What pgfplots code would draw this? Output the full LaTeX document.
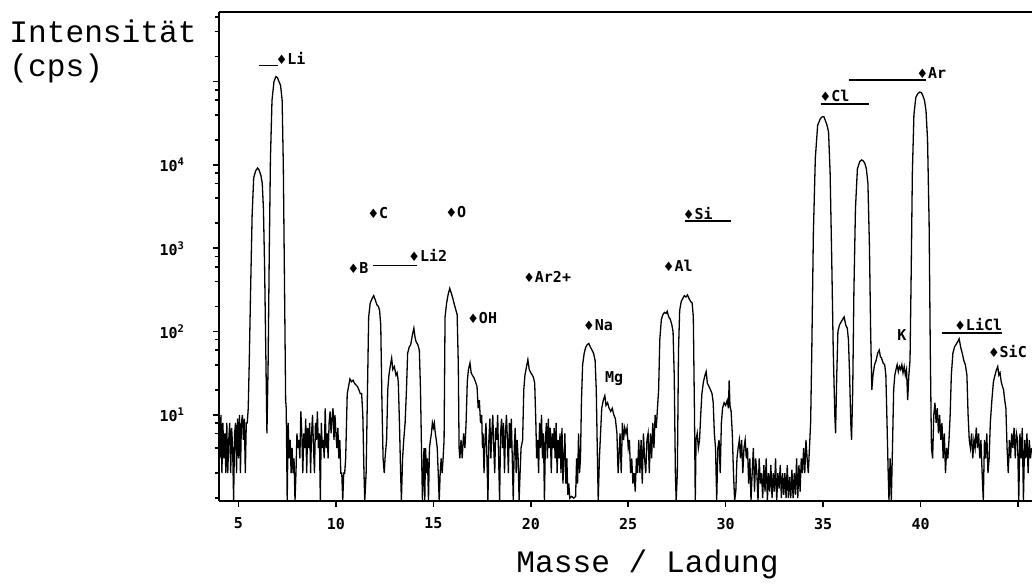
\documentclass[border=0pt]{standalone}
\usepackage{fontspec}
\setmainfont{Liberation Mono}
\newfontfamily\plotfont{DejaVu Sans Mono}
\newfontfamily\symfont{DejaVu Sans}
\usepackage{pgfplots}
\pgfplotsset{compat=1.18}

\newcommand{\dm}{{\symfont\fontsize{6.5}{6.5}\selectfont\char"2666}}
\tikzset{anno/.style={font=\plotfont\bfseries\fontsize{7.5}{8}\selectfont, anchor=west, inner sep=0pt, xshift=-2.5pt}}

\begin{document}
\begin{tikzpicture}
\begin{axis}[
    scale only axis,
    width=406.5pt, height=244.5pt,
    ymode=log,
    xmin=4, xmax=45.72,
    ymin=0.925, ymax=6.87e5,
    axis lines=left,
    axis line style={-, line width=1.1pt},
    tick align=outside,
    major tick length=3pt, minor tick length=2.2pt,
    every tick/.style={black, line width=0.8pt},
    xtick={5,10,...,45},
    xticklabels={5,10,15,20,25,30,35,40,{}},
    ytick={10,100,1000,10000,100000},
    yticklabels={{10\textsuperscript{1}},{10\textsuperscript{2}},{10\textsuperscript{3}},{10\textsuperscript{4}},{}},
    minor ytick={1,2,4,6,8,20,40,60,80,200,400,600,800,2000,4000,6000,8000,20000,40000,60000,80000,200000,400000,600000},
    tick label style={font=\plotfont\bfseries\fontsize{7.5}{8}\selectfont},
    yticklabel style={xshift=-10.5pt},
    xticklabel style={yshift=-2pt},
    clip=false,
]
\coordinate (tl) at (rel axis cs:0,1);
\coordinate (br) at (rel axis cs:1,0);
\draw[line width=1.1pt] (rel axis cs:0,1) -- (rel axis cs:1,1);

\addplot[black, line width=0.65pt] coordinates {
(4.00,14) (4.05,3) (4.10,10) (4.15,2) (4.20,8) (4.25,3) (4.30,6) (4.35,2) (4.40,8) (4.45,2)
(4.50,5) (4.55,8) (4.60,2) (4.65,7) (4.70,4) (4.75,0.93) (4.80,6) (4.85,8) (4.90,2) (4.95,9)
(5.00,3) (5.05,10) (5.10,2) (5.15,8) (5.20,10) (5.25,5) (5.30,9) (5.35,2) (5.40,8) (5.45,8)
(5.50,12) (5.55,40) (5.62,300) (5.70,2500) (5.78,7000) (5.88,8500) (5.98,9200) (6.05,8800)
(6.15,7500) (6.22,6000) (6.28,3000) (6.34,600) (6.40,60) (6.46,6) (6.52,40) (6.58,900)
(6.64,12000) (6.72,60000) (6.82,100000) (6.92,115000) (7.00,112000) (7.08,100000)
(7.16,90000) (7.24,60000) (7.30,10000) (7.36,400) (7.42,15)
(7.45,12) (7.50,0.93) (7.55,8) (7.60,3) (7.65,5) (7.70,2) (7.75,4) (7.80,2) (7.85,3) (7.90,0.93)
(7.95,2) (8.00,6) (8.05,4) (8.10,5) (8.15,3) (8.20,11) (8.25,6) (8.30,2) (8.35,6) (8.40,4)
(8.45,9) (8.50,2) (8.55,7) (8.60,4) (8.65,8) (8.70,2) (8.75,6) (8.80,10) (8.85,4) (8.90,2)
(8.95,8) (9.00,5) (9.05,11) (9.10,4) (9.15,6) (9.20,0.93) (9.25,8) (9.30,4) (9.35,5) (9.40,3)
(9.45,12) (9.50,4) (9.55,6) (9.60,3) (9.65,8) (9.70,11) (9.75,6) (9.80,9) (9.85,12) (9.90,5)
(9.95,10) (10.00,6) (10.05,4) (10.10,7) (10.15,3) (10.20,5) (10.25,2) (10.30,2) (10.35,0.93)
(10.40,2) (10.45,2) (10.50,3)
(10.58,18) (10.65,22) (10.72,27) (10.80,25) (10.88,26) (10.95,24) (11.02,23) (11.10,22)
(11.18,20) (11.25,18) (11.32,18) (11.38,10) (11.44,2) (11.48,0.93)
(11.55,2) (11.62,20) (11.68,150) (11.76,220) (11.86,250) (11.94,270) (12.02,240) (12.10,210)
(12.18,200) (12.24,180) (12.30,120) (12.36,15) (12.42,3) (12.48,2) (12.52,3)
(12.60,5) (12.66,20) (12.72,30) (12.80,40) (12.86,48) (12.92,35) (13.00,38) (13.08,30)
(13.14,32) (13.20,25) (13.26,8) (13.32,2) (13.36,0.93) (13.42,3) (13.48,5) (13.55,8)
(13.62,20) (13.68,55) (13.76,65) (13.84,70) (13.92,90) (14.00,110) (14.06,85) (14.12,75)
(14.20,70) (14.28,60) (14.34,20) (14.40,3) (14.44,0.93) (14.48,2) (14.52,4) (14.56,0.93)
(14.60,4) (14.65,2) (14.70,3) (14.75,0.93) (14.80,4) (14.85,5) (14.90,6) (14.95,8) (15.00,7)
(15.05,8) (15.10,6) (15.15,5) (15.20,4) (15.25,2) (15.30,0.93) (15.35,2) (15.40,3) (15.45,2)
(15.50,3) (15.55,5)
(15.60,150) (15.68,220) (15.76,280) (15.84,330) (15.92,290) (16.00,250) (16.08,210)
(16.16,180) (16.22,160) (16.28,40) (16.32,4)
(16.36,3) (16.42,5) (16.48,3) (16.55,6) (16.62,4) (16.68,8) (16.74,25) (16.80,35) (16.88,42)
(16.94,32) (17.00,30) (17.08,28) (17.16,25) (17.24,22) (17.30,12) (17.36,15) (17.42,8)
(17.48,10) (17.52,4)
(17.55,6) (17.60,2) (17.65,5) (17.70,8) (17.75,3) (17.80,0.93) (17.85,5) (17.90,9) (17.95,3)
(18.00,6) (18.05,10) (18.10,4) (18.15,2) (18.20,7) (18.25,5) (18.30,10) (18.35,3) (18.40,0.93)
(18.45,6) (18.50,9) (18.55,4) (18.60,8) (18.65,2) (18.70,6) (18.75,10) (18.80,5) (18.85,2)
(18.90,8) (18.95,4) (19.00,9) (19.05,3) (19.10,0.93) (19.15,4) (19.20,7) (19.25,2) (19.30,5)
(19.35,3) (19.40,0.93) (19.45,2) (19.50,4) (19.58,5)
(19.64,20) (19.70,30) (19.78,38) (19.85,46) (19.92,35) (20.00,32) (20.08,30) (20.14,28)
(20.20,24) (20.26,8) (20.30,3)
(20.35,5) (20.40,2) (20.45,8) (20.50,4) (20.55,10) (20.60,3) (20.65,6) (20.70,0.93) (20.75,5)
(20.80,8) (20.85,3) (20.90,9) (20.95,4) (21.00,7) (21.05,2) (21.10,6) (21.15,4) (21.20,7)
(21.25,3) (21.30,8) (21.35,2) (21.40,5) (21.45,3) (21.50,6) (21.55,2) (21.60,7) (21.65,1.5)
(21.70,3) (21.75,6) (21.80,1.5) (21.85,3) (21.90,1.1) (21.95,1.5) (22.00,1.0) (22.10,1.05)
(22.20,1.0) (22.30,1.05) (22.35,3) (22.40,1.5) (22.45,6) (22.50,2) (22.55,3)
(22.60,15) (22.66,40) (22.74,55) (22.82,65) (22.90,70) (22.98,72) (23.06,65) (23.14,60)
(23.22,55) (23.30,45) (23.36,20) (23.42,3) (23.46,0.93)
(23.52,3) (23.58,6) (23.64,12) (23.72,15) (23.80,17) (23.86,13) (23.94,14) (24.02,12)
(24.10,11) (24.18,12) (24.26,10) (24.34,9) (24.42,6) (24.48,2) (24.52,3)
(24.58,6) (24.64,2) (24.70,8) (24.76,5) (24.82,7) (24.88,6) (24.94,7) (25.00,4) (25.06,5)
(25.12,2) (25.18,3) (25.24,1.5) (25.30,2) (25.36,1.2) (25.42,3) (25.48,2) (25.54,5) (25.60,2)
(25.66,5) (25.72,1.5) (25.78,6) (25.84,3) (25.90,2) (25.96,5) (26.02,6) (26.08,2) (26.14,6)
(26.20,3) (26.26,8) (26.32,4) (26.38,10) (26.44,7) (26.50,12)
(26.56,20) (26.62,80) (26.70,140) (26.78,160) (26.86,170) (26.94,165) (27.00,175) (27.08,150)
(27.16,140) (27.24,120) (27.30,100) (27.36,30) (27.42,2) (27.46,0.93) (27.52,2)
(27.58,60) (27.64,180) (27.72,230) (27.80,250) (27.88,270) (27.96,260) (28.04,275) (28.12,250)
(28.20,230) (28.28,220) (28.34,150) (28.40,10) (28.44,0.93)
(28.48,5) (28.54,6) (28.60,4) (28.66,5) (28.72,10) (28.78,18) (28.86,25) (28.94,30) (29.00,33)
(29.06,24) (29.14,22) (29.22,20) (29.30,18) (29.36,14) (29.42,6) (29.48,4) (29.54,0.93)
(29.60,4) (29.66,5) (29.72,2) (29.78,8) (29.84,12) (29.92,14) (30.00,13) (30.08,15) (30.14,12)
(30.18,26) (30.22,13) (30.28,11) (30.34,6) (30.40,2) (30.46,0.93) (30.52,1.2)
(30.58,3) (30.64,4) (30.70,5) (30.76,3) (30.82,5) (30.88,2) (30.94,4) (31.00,5) (31.06,3)
(31.12,4) (31.18,1.5) (31.24,3) (31.30,0.93) (31.36,2) (31.42,4) (31.48,1.2) (31.54,3)
(31.60,2) (31.66,0.93) (31.72,3) (31.78,1.5) (31.84,2) (31.90,1.0) (31.96,2.5) (32.02,1.2)
(32.08,3) (32.14,0.93) (32.20,2) (32.26,1.2) (32.32,2.5) (32.38,1.0) (32.44,2) (32.50,1.2)
(32.56,3) (32.62,0.93) (32.68,2) (32.74,1.3) (32.80,2.5) (32.86,1.0) (32.92,2) (32.98,1.1)
(33.04,2) (33.10,1.0) (33.16,2.5) (33.22,1.0) (33.28,1.8) (33.34,1.0) (33.40,2.2) (33.46,1.0)
(33.52,2) (33.58,1.1) (33.64,3) (33.70,1.0) (33.76,2.5) (33.82,1.2) (33.88,3) (33.94,2)
(34.00,4) (34.06,2) (34.12,5) (34.18,3) (34.24,2) (34.30,4)
(34.36,8) (34.42,60) (34.50,1500) (34.60,12000) (34.72,30000) (34.86,36000) (34.96,38000)
(35.04,38000) (35.12,34000) (35.20,30000) (35.28,25000) (35.36,8000) (35.44,800) (35.52,60)
(35.60,10) (35.64,6)
(35.70,30) (35.76,100) (35.84,120) (35.92,130) (36.00,140) (36.08,150) (36.16,120) (36.24,110)
(36.30,80) (36.36,30) (36.42,8) (36.46,5)
(36.52,20) (36.58,300) (36.66,3000) (36.76,9000) (36.88,11000) (36.98,11500) (37.06,11200)
(37.14,10500) (37.22,9000) (37.30,6000) (37.38,1000) (37.44,100) (37.50,20)
(37.56,30) (37.64,40) (37.72,45) (37.80,55) (37.88,60) (37.94,50) (38.00,48) (38.08,42)
(38.16,40) (38.22,30) (38.28,8) (38.34,2) (38.38,0.93)
(38.44,3) (38.50,0.93) (38.56,4) (38.62,20) (38.68,30) (38.74,35) (38.80,40) (38.86,33)
(38.92,38) (38.98,35) (39.04,40) (39.10,32) (39.16,38) (39.22,30) (39.28,35) (39.34,15)
(39.40,30) (39.46,45)
(39.52,500) (39.58,8000) (39.66,40000) (39.76,65000) (39.86,72000) (39.96,75000) (40.04,74000)
(40.12,68000) (40.20,60000) (40.28,45000) (40.36,20000) (40.44,2000) (40.50,60) (40.56,4)
(40.62,3) (40.68,10) (40.74,14) (40.80,8) (40.86,12) (40.92,6) (40.98,10) (41.04,5) (41.10,8)
(41.16,3) (41.22,6) (41.28,2) (41.34,4) (41.40,3) (41.46,5)
(41.52,10) (41.58,30) (41.66,55) (41.74,65) (41.82,70) (41.90,75) (41.98,82) (42.06,65)
(42.14,55) (42.22,45) (42.30,40) (42.38,30) (42.44,10) (42.50,5)
(42.56,4) (42.62,6) (42.68,3) (42.74,5) (42.80,4) (42.86,7) (42.92,4) (42.98,6) (43.04,3)
(43.10,5) (43.16,2) (43.22,0.93) (43.28,5) (43.34,3) (43.40,6) (43.46,2) (43.52,3)
(43.58,8) (43.66,15) (43.74,25) (43.82,30) (43.90,35) (43.96,38) (44.02,30) (44.08,32)
(44.14,25) (44.20,22) (44.26,20) (44.32,15) (44.38,12) (44.44,4) (44.50,2)
(44.56,5) (44.62,3) (44.68,6) (44.74,4) (44.80,7) (44.86,3) (44.92,6) (44.98,5) (45.04,0.93)
(45.10,6) (45.16,3) (45.22,7) (45.28,0.93) (45.34,5) (45.40,3) (45.46,6) (45.52,2) (45.58,5)
(45.64,3) (45.70,4)
};

% peak labels and bars
\node[anno] at (axis cs:7.15,1.9e5) {\dm Li};
\draw[line width=0.6pt] (axis cs:6.03,1.55e5) -- (axis cs:7.05,1.55e5);
\node[anno] at (axis cs:10.84,575) {\dm B};
\draw[line width=0.6pt] (axis cs:11.92,615) -- (axis cs:14.17,615);
\node[anno] at (axis cs:13.96,830) {\dm Li2};
\node[anno] at (axis cs:11.86,2640) {\dm C};
\node[anno] at (axis cs:15.86,2740) {\dm O};
\node[anno] at (axis cs:16.98,145) {\dm OH};
\node[anno] at (axis cs:19.85,455) {\dm Ar2+};
\node[anno] at (axis cs:22.92,120) {\dm Na};
\node[anno] at (axis cs:24.05,27.6) {Mg};
\node[anno] at (axis cs:27.02,610) {\dm Al};
\node[anno] at (axis cs:28.04,2640) {\dm Si};
\draw[line width=0.6pt] (axis cs:27.89,2130) -- (axis cs:30.25,2130);
\node[anno] at (axis cs:35.06,6.7e4) {\dm Cl};
\draw[line width=0.6pt] (axis cs:34.9,5.4e4) -- (axis cs:37.36,5.4e4);
\node[anno] at (axis cs:40.03,1.27e5) {\dm Ar};
\draw[line width=0.6pt] (axis cs:36.34,1.05e5) -- (axis cs:40.28,1.05e5);
\node[anno] at (axis cs:39.05,91) {K};
\node[anno] at (axis cs:41.97,120) {\dm LiCl};
\draw[line width=0.6pt] (axis cs:41.1,96) -- (axis cs:44.17,96);
\node[anno] at (axis cs:43.7,57) {\dm SiC};

\node[anchor=base, font=\fontsize{15.6}{16}\selectfont] at ([yshift=-36pt]rel axis cs:0.527,0) {Masse / Ladung};
\end{axis}
\node[anchor=base west, font=\fontsize{15.6}{16}\selectfont, inner sep=0pt] at ([xshift=-105pt, yshift=-15.5pt]tl) {Intensität};
\node[anchor=base west, font=\fontsize{15.6}{16}\selectfont, inner sep=0pt] at ([xshift=-105pt, yshift=-32.5pt]tl) {(cps)};
\pgfresetboundingbox
\path[use as bounding box] ([xshift=-109.5pt, yshift=6pt]tl) rectangle ([yshift=-42.5pt]br);
\end{tikzpicture}
\end{document}
